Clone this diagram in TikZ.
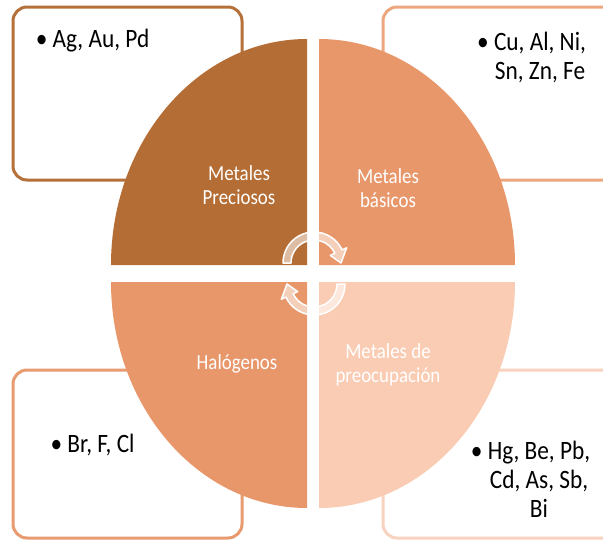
\documentclass[tikz,border=0pt]{standalone}
\usepackage{fontspec}
\setmainfont{Carlito}
\newfontfamily\tallfont[FakeStretch=0.88]{Carlito}
\definecolor{cBrown}{HTML}{B46D34}
\definecolor{cOrange}{HTML}{E8976A}
\definecolor{cPale}{HTML}{F9CCB3}
\definecolor{bBrown}{HTML}{B6713A}
\definecolor{bOrangeL}{HTML}{EDA77F}
\definecolor{bOrange}{HTML}{E99B70}
\definecolor{bPale}{HTML}{F8D3BF}
\tikzset{
 listbox/.style={line width=3pt, rounded corners=14pt, fill=white},
 lbl/.style={text=white, font=\tallfont\fontsize{21.5}{24}\selectfont, align=center, inner sep=0pt},
 itm/.style={text=black, font=\tallfont\fontsize{26.5}{29}\selectfont, align=center, inner sep=0pt},
 cyc/.style={fill=white, fill opacity=0.55, draw=white, draw opacity=1, line width=1.5pt, line join=round}
}
\begin{document}
\begin{tikzpicture}[x=1pt,y=-1pt]
\useasboundingbox (0,0) rectangle (603,541);
\fill[white] (0,0) rectangle (603,541);
% list boxes
\draw[listbox, draw=bBrown] (13,7) rectangle (242,180);
\draw[listbox, draw=bOrangeL] (383,7) rectangle (620,180);
\draw[listbox, draw=bOrange] (13,370) rectangle (242,538);
\draw[listbox, draw=bPale] (383,370) rectangle (620,538);
% quadrants
\fill[cBrown] (307,265) -- ++(-196,0) arc[start angle=180,end angle=270,x radius=196,y radius=226] -- cycle;
\fill[cOrange] (319,265) -- ++(0,-226) arc[start angle=270,end angle=360,x radius=196,y radius=226] -- cycle;
\fill[cPale] (319,282) -- ++(196,0) arc[start angle=0,end angle=90,x radius=196,y radius=226] -- cycle;
\fill[cOrange] (307,282) -- ++(0,226) arc[start angle=90,end angle=180,x radius=196,y radius=226] -- cycle;
% cycle arrows
\begin{scope}[shift={(314,263)}]
\path[cyc] (180:31) arc[start angle=180,end angle=335,radius=31] -- (335:36) -- (360:27) -- (335:18) -- (335:23) arc[start angle=335,end angle=180,radius=23] -- cycle;
\end{scope}
\begin{scope}[shift={(314,284)}]
\path[cyc] (0:31) arc[start angle=0,end angle=155,radius=31] -- (155:36) -- (180:27) -- (155:18) -- (155:23) arc[start angle=155,end angle=0,radius=23] -- cycle;
\end{scope}
% labels
\node[lbl] (prec) at (239,185) {Metales\\Preciosos};
\node[lbl] (basi) at (388,188) {Metales\\básicos};
\node[lbl, anchor=base] (halo) at (237,369) {Halógenos};
\node[lbl] (preo) at (388,365) {Metales de\\preocupación};
% items
\node[itm, anchor=base] (tl) at (101,47) {\llap{\textbullet\ }Ag, Au, Pd};
\node[itm] (tr) at (540,57) {\llap{\textbullet\ }Cu, Al, Ni,\\Sn, Zn, Fe};
\node[itm, anchor=base] (bl) at (101,452) {\llap{\textbullet\ }Br, F, Cl};
\node[itm] (br) at (539,479) {\llap{\textbullet\ }Hg, Be, Pb,\\Cd, As, Sb,\\Bi};
\end{tikzpicture}
\end{document}
